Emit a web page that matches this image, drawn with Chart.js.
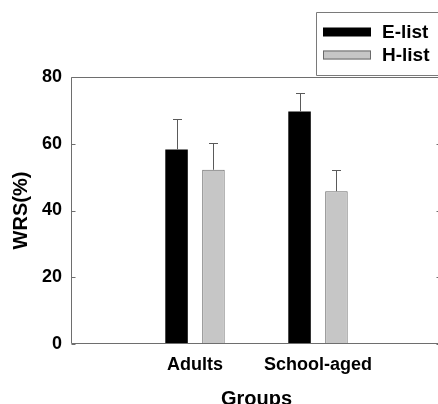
<!DOCTYPE html>
<html><head><meta charset="utf-8">
<script src="https://cdn.jsdelivr.net/npm/chart.js@4"></script>
<style>
html,body{margin:0;padding:0;overflow:hidden;background:#fff}
#clip{position:relative;width:438px;height:404px;overflow:hidden}
#clip canvas{position:absolute;left:0;top:0;display:block}
</style></head>
<body><div id="clip"><canvas id="c" width="446" height="412"></canvas></div>
<script>
const categories = ['Adults', 'School-aged'];
const seriesNames = ['E-list', 'H-list'];
const eListMean = [58.3, 69.7];
const hListMean = [52.2, 45.8];
const eListSD = [9.1, 5.4];
const hListSD = [7.9, 6.4];
const yTicks = [0, 20, 40, 60, 80];
const xTitle = 'Groups';
const yTitle = 'WRS(%)';

const FONT = "'Liberation Sans', Arial, sans-serif";
const FRAME = '#6e6e6e';
const labels = ['', ...categories, ''];
const pad = arr => [null, ...arr, null];
const sdByDataset = [pad(eListSD), pad(hListSD)];

const errorBars = {
  id: 'errorBars',
  afterDatasetsDraw(chart) {
    const ctx = chart.ctx;
    const ys = chart.scales.y;
    ctx.save();
    ctx.strokeStyle = '#5a5a5a';
    ctx.lineWidth = 1;
    chart.data.datasets.forEach((ds, di) => {
      chart.getDatasetMeta(di).data.forEach((bar, i) => {
        const v = ds.data[i];
        const sd = sdByDataset[di][i];
        if (v == null || sd == null) return;
        const x = Math.round(bar.x) + 0.5;
        const yTop = ys.getPixelForValue(v);
        const yErr = Math.round(ys.getPixelForValue(v + sd)) + 0.5;
        ctx.beginPath();
        ctx.moveTo(x, yTop);
        ctx.lineTo(x, yErr);
        ctx.moveTo(x - 4.5, yErr);
        ctx.lineTo(x + 4.5, yErr);
        ctx.stroke();
      });
    });
    ctx.restore();
  }
};

const frame = {
  id: 'frame',
  afterDraw(chart) {
    const ctx = chart.ctx;
    const ca = chart.chartArea;
    const ys = chart.scales.y;
    const L = Math.round(ca.left) - 0.5, R = Math.round(ca.right) - 0.5;
    const T = Math.round(ca.top) + 0.5, B = Math.round(ca.bottom) - 0.5;
    ctx.save();
    ctx.strokeStyle = FRAME;
    ctx.lineWidth = 1;
    ctx.beginPath();
    ctx.moveTo(L, T); ctx.lineTo(R, T); ctx.lineTo(R, B); ctx.lineTo(L, B); ctx.closePath();
    ys.ticks.forEach(t => {
      const y = Math.round(ys.getPixelForValue(t.value)) + 0.5;
      ctx.moveTo(L, y); ctx.lineTo(L + 4, y);
      ctx.moveTo(R, y); ctx.lineTo(R - 4, y);
    });
    ctx.stroke();

    // legend box (right side runs past the canvas edge)
    ctx.strokeStyle = '#7a7a7a';
    ctx.beginPath();
    ctx.moveTo(470, 12.5); ctx.lineTo(316.5, 12.5); ctx.lineTo(316.5, 75.5); ctx.lineTo(470, 75.5);
    ctx.stroke();
    ctx.font = 'bold 19px ' + FONT;
    ctx.textBaseline = 'middle';
    ctx.textAlign = 'left';
    const rows = [32, 55];
    chart.data.datasets.forEach((ds, i) => {
      const cy = rows[i];
      ctx.fillStyle = ds.backgroundColor;
      ctx.fillRect(323, cy - 4.5, 48, 9);
      if (i === 1) {
        ctx.strokeStyle = ds.borderColor;
        ctx.strokeRect(323.5, cy - 4, 47, 8);
      }
      ctx.fillStyle = '#000';
      ctx.fillText(ds.label, 382, cy + 1);
    });
    ctx.restore();
  }
};

new Chart(document.getElementById('c'), {
  type: 'bar',
  data: {
    labels: labels,
    datasets: [
      { label: seriesNames[0], data: pad(eListMean), backgroundColor: '#000000', borderColor: '#000000', borderWidth: 0 },
      { label: seriesNames[1], data: pad(hListMean), backgroundColor: '#c6c6c6', borderColor: '#6a6a6a', borderWidth: 1 }
    ]
  },
  options: {
    responsive: false,
    animation: false,
    devicePixelRatio: 1,
    categoryPercentage: 0.6,
    barPercentage: 0.61,
    layout: { padding: { top: 77, right: 5, left: 0, bottom: 0 } },
    plugins: { legend: { display: false }, tooltip: { enabled: false } },
    scales: {
      x: {
        offset: false,
        grid: { display: false, drawTicks: false },
        border: { display: false },
        ticks: { color: '#000', font: { family: FONT, size: 18, weight: 'bold' }, padding: 10, autoSkip: false, maxRotation: 0 },
        title: { display: true, text: xTitle, color: '#000', font: { family: FONT, size: 20, weight: 'bold' }, padding: { top: 0, bottom: 1 } },
        afterFit: s => { s.height = 68; s.paddingLeft = 0; s.paddingRight = 0; }
      },
      y: {
        min: 0, max: 80,
        grid: { display: false, drawTicks: false },
        border: { display: false },
        afterBuildTicks: s => { s.ticks = yTicks.map(v => ({ value: v })); },
        ticks: { color: '#000', font: { family: FONT, size: 18, weight: 'bold' }, padding: 10 },
        title: { display: true, text: yTitle, color: '#000', font: { family: FONT, size: 20, weight: 'bold' }, padding: { top: 9, bottom: 0 } },
        afterFit: s => { s.width = 72; s.paddingTop = 0; s.paddingBottom = 0; }
      }
    }
  },
  plugins: [errorBars, frame]
});
</script>
</body></html>
